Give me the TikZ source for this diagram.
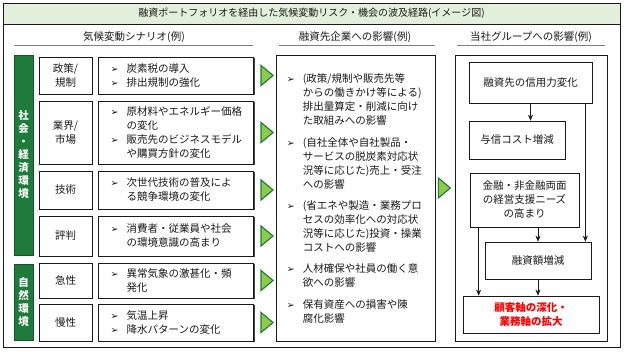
\documentclass[tikz,border=0pt]{standalone}
\usepackage{fontspec}
\usepackage{tikz}
\usetikzlibrary{positioning,calc,shadows,arrows.meta}
\setmainfont{Noto Sans CJK JP}
\newfontfamily\dingfont{DejaVu Sans}
\definecolor{ink}       {HTML}{1A1A1A}
\definecolor{leaf}      {HTML}{1E7B3A}
\definecolor{titlefill} {HTML}{E2EFDA}
\definecolor{arrowfill} {HTML}{8CCB4E}
\definecolor{arrowline} {HTML}{23802F}
\definecolor{rulegray}  {HTML}{7F7F7F}
\definecolor{alert}     {HTML}{FF0000}
\newcommand{\bul}{\makebox[16pt][l]{\dingfont\fontsize{9.5}{9.5}\selectfont ➢}}
\newcommand{\ind}{\makebox[16pt]{}}
\tikzset{
  every node/.style={font=\fontsize{10.5}{14}\selectfont, text=ink},
  % --- nodes
  shd/.style   = {drop shadow={shadow xshift=1.2pt, shadow yshift=-1.2pt,
                  fill=black!75, opacity=1}},
  box/.style   = {draw=ink, line width=0.7pt, fill=white, inner sep=0pt,
                  align=center, shd},
  cat/.style   = {box, minimum width=53pt},
  scen/.style  = {box, minimum width=155pt},
  txt/.style   = {align=left, inner sep=0pt, anchor=west},
  bar/.style   = {draw=leaf!70!black, fill=leaf, minimum width=19pt, inner sep=0pt,
                  align=center, text=white,
                  font=\fontsize{10.5}{13}\selectfont\bfseries},
  hdr/.style   = {font=\fontsize{10.5}{13}\selectfont},
  hline/.style = {draw=rulegray, line width=0.9pt},
  garrow/.style= {draw=arrowline, fill=arrowfill, line width=1.2pt, line join=miter},
  garr/.pic    = {\path[garrow] (-6,-10) -- (6,0) -- (-6,10) -- cycle;},
  % --- edges
  e/.style     = {-{Stealth[length=6pt,width=5pt]}, line width=0.6pt, draw=ink},
}
\begin{document}
\begin{tikzpicture}[x=1pt,y=-1pt]
  \useasboundingbox (0,0) rectangle (624,352);
  % frame and title
  \node[box, minimum width=617pt, minimum height=344pt] (frame) at (311.5,175) {};
  \node[draw=ink, line width=0.7pt, fill=titlefill, minimum width=617pt,
        minimum height=21pt, inner sep=0pt, font=\fontsize{10}{12}\selectfont]
        (title) at (311.5,13.5)
        {融資ポートフォリオを経由した気候変動リスク・機会の波及経路(イメージ図)};
  % column headers
  \node[hdr] (h1) at (134,37) {気候変動シナリオ(例)};
  \node[hdr] (h2) at (355,37) {融資先企業への影響(例)};
  \node[hdr] (h3) at (531,37) {当社グループへの影響(例)};
  \foreach \a/\b in {14/253,279/435,457/605}
    \draw[hline] (\a,45) -- (\b,45);
  % green side bars
  \node[bar, minimum height=200pt] (soc) at (23.5,155) {社\\会\\・\\経\\済\\環\\境};
  \node[bar, minimum height=76pt]  (nat) at (23.5,302) {自\\然\\環\\境};
  % scenario rows
  \node[cat, minimum height=37pt] (c1) at (65.5,75.5)  {政策/\\規制};
  \node[cat, minimum height=63pt] (c2) at (65.5,132.5) {業界/\\市場};
  \node[cat, minimum height=38pt] (c3) at (65.5,190)   {技術};
  \node[cat, minimum height=40pt] (c4) at (65.5,236)   {評判};
  \node[cat, minimum height=35pt] (c5) at (65.5,280.5) {急性};
  \node[cat, minimum height=37pt] (c6) at (65.5,322.5) {慢性};
  \node[scen, minimum height=37pt, right=6pt of c1] (s1) {};
  \node[scen, minimum height=63pt, right=6pt of c2] (s2) {};
  \node[scen, minimum height=38pt, right=6pt of c3] (s3) {};
  \node[scen, minimum height=40pt, right=6pt of c4] (s4) {};
  \node[scen, minimum height=35pt, right=6pt of c5] (s5) {};
  \node[scen, minimum height=37pt, right=6pt of c6] (s6) {};
  \node[txt] (t1) at ([xshift=12pt]s1.west) {\bul 炭素税の導入\\ \bul 排出規制の強化};
  \node[txt] (t2) at ([xshift=12pt]s2.west) {\bul 原材料やエネルギー価格\\ \ind の変化\\
                                             \bul 販売先のビジネスモデル\\ \ind や購買方針の変化};
  \node[txt] (t3) at ([xshift=12pt]s3.west) {\bul 次世代技術の普及によ\\ \ind る競争環境の変化};
  \node[txt] (t4) at ([xshift=12pt]s4.west) {\bul 消費者・従業員や社会\\ \ind の環境意識の高まり};
  \node[txt] (t5) at ([xshift=12pt]s5.west) {\bul 異常気象の激甚化・頻\\ \ind 発化};
  \node[txt] (t6) at ([xshift=12pt]s6.west) {\bul 気温上昇\\ \bul 降水パターンの変化};
  \foreach \i in {1,...,6}
    \pic at ($(s\i.east)+(13,0)$) {garr};
  % impact on borrowers
  \node[box, minimum width=159pt, minimum height=286pt] (mid) at (355.5,198) {};
  \node[txt] (m) at ([xshift=11pt]mid.west)
    {\bul(政策/規制や販売先等\\ \ind からの働きかけ等による)\\ \ind 排出量算定・削減に向け\\
     \ind た取組みへの影響\\[8pt]
     \bul(自社全体や自社製品・\\ \ind サービスの脱炭素対応状\\ \ind 況等に応じた)売上・受注\\
     \ind への影響\\[7pt]
     \bul(省エネや製造・業務プロ\\ \ind セスの効率化への対応状\\ \ind 況等に応じた)投資・操業\\
     \ind コストへの影響\\[7pt]
     \bul 人材確保や社員の働く意\\ \ind 欲への影響\\[8pt]
     \bul 保有資産への損害や陳\\ \ind 腐化影響};
  \pic at ($(mid.east)+(9,-10)$) {garr};
  % impact on the group
  \node[box, minimum width=152pt, minimum height=286pt] (grp) at (531,198) {};
  \node[box, minimum width=123pt, minimum height=41pt] (credit) at (530.5,82.5) {融資先の信用力変化};
  \node[box, minimum width=96pt,  minimum height=38pt] (cost)   at (517,140)    {与信コスト増減};
  \node[box, minimum width=109pt, minimum height=54pt] (needs)  at (524.5,200)
       {金融・非金融両面\\の経営支援ニーズ\\の高まり};
  \node[box, minimum width=106pt, minimum height=37pt] (amount) at (538,260.5)  {融資額増減};
  \node[box, minimum width=136pt, minimum height=37pt, text=alert,
        font=\fontsize{10.5}{14}\selectfont\bfseries] (result) at (531,314.5)
       {顧客軸の深化・\\業務軸の拡大};
  \coordinate (cr) at ($(credit.south east)+(-7,0)$);
  \coordinate (nd) at ($(needs.south west)+(9,0)$);
  \draw[e] (credit.south) -- (credit.south |- cost.north);
  \draw[e] (cr) -- (cr |- amount.north);
  \draw[e] (amount.north |- needs.south) -- (amount.north);
  \draw[e] (nd) -- (nd |- result.north);
  \draw[e] (amount.south) -- (amount.south |- result.north);
\end{tikzpicture}
\end{document}
